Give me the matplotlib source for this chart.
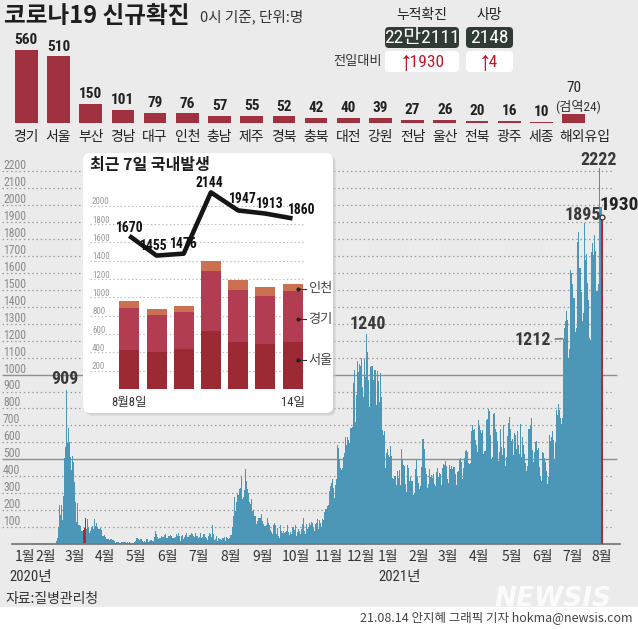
import numpy as np
import pandas as pd
import matplotlib
matplotlib.use('Agg')
import matplotlib.pyplot as plt
import matplotlib.dates as mdates
from matplotlib.patches import FancyBboxPatch, Rectangle

plt.rcParams['font.family'] = ['Noto Sans CJK KR', 'DejaVu Sans']
# narrow face for numbers, falls back family by family
NUM = ['Roboto Condensed', 'Archivo Narrow', 'Liberation Sans Narrow', 'Noto Sans CJK KR', 'DejaVu Sans']

# ---- data: regional new cases (Aug 14, 2021) ----
regions = ['경기', '서울', '부산', '경남', '대구', '인천', '충남', '제주', '경북',
           '충북', '대전', '강원', '전남', '울산', '전북', '광주', '세종', '해외유입']
region_cases = [560, 510, 150, 101, 79, 76, 57, 55, 52, 42, 40, 39, 27, 26, 20, 16, 10, 70]
quarantine_note = '(검역24)'

total_cases = '22만2111'
total_deaths = '2148'
cases_change = '↑1930'
deaths_change = '↑4'

# ---- data: last 7 days domestic ----
recent_labels = ['8월8일', '', '', '', '', '', '14일']
seoul = [425, 400, 439, 632, 512, 491, 510]
gyeonggi = [462, 407, 404, 658, 571, 526, 560]
incheon = [73, 65, 65, 109, 109, 99, 76]
recent_total = [1670, 1455, 1476, 2144, 1947, 1913, 1860]

# ---- data: daily new cases, 2020-01-20 .. 2021-08-14 ----
d2020_01 = [1, 0, 0, 0, 1, 0, 1, 1, 0, 0, 2, 4]
d2020_02 = [1, 3, 0, 1, 2, 4, 1, 0, 3, 0, 0, 0, 0, 0, 0, 1, 1, 1, 1, 15,
            34, 100, 229, 169, 231, 144, 284, 505, 571]
d2020_03 = [909, 595, 686, 600, 516, 438, 518, 483, 367, 248, 131, 242, 114, 110, 107, 76,
            74, 84, 93, 152, 87, 147, 98, 64, 76, 100, 104, 91, 146, 105, 125]
d2020_04 = [101, 89, 86, 94, 81, 47, 47, 53, 39, 27, 30, 32, 25, 27, 27, 22, 22, 18, 8, 13,
            9, 11, 8, 6, 10, 10, 10, 14, 9, 4]
d2020_05 = [9, 6, 13, 8, 3, 2, 4, 12, 18, 34, 35, 27, 26, 29, 27, 19, 13, 15, 13, 32,
            12, 20, 23, 25, 16, 19, 40, 79, 58, 39, 27]
d2020_06 = [35, 38, 49, 39, 39, 51, 57, 38, 38, 50, 45, 56, 48, 34, 37, 34, 43, 59, 49, 67,
            48, 17, 46, 51, 28, 39, 51, 62, 42, 43]
d2020_07 = [51, 54, 63, 61, 48, 44, 62, 50, 45, 35, 44, 62, 33, 39, 61, 60, 39, 34, 26, 45,
            63, 59, 41, 113, 58, 25, 28, 48, 18, 36, 31]
d2020_08 = [30, 23, 34, 33, 43, 20, 43, 36, 28, 34, 54, 56, 103, 166, 279, 197, 246, 297, 288, 324,
            332, 397, 266, 280, 320, 441, 371, 323, 299, 248, 235]
d2020_09 = [267, 195, 198, 168, 167, 119, 136, 156, 155, 176, 136, 121, 109, 106, 113, 153, 126, 110, 82, 70,
            61, 110, 125, 114, 61, 95, 50, 38, 113, 77]
d2020_10 = [63, 75, 64, 73, 75, 114, 69, 54, 72, 58, 97, 102, 84, 110, 47, 73, 91, 76, 58, 91,
            121, 155, 77, 61, 119, 88, 103, 125, 114, 127, 124]
d2020_11 = [97, 75, 118, 125, 145, 89, 143, 126, 100, 146, 143, 191, 205, 208, 223, 230, 313, 343, 363, 386,
            330, 271, 349, 382, 583, 569, 504, 450, 438, 451]
d2020_12 = [511, 540, 629, 583, 631, 615, 594, 686, 682, 689, 950, 1030, 718, 880, 1078, 1014, 1064, 1053, 1097, 926,
            869, 1092, 985, 1241, 1132, 970, 807, 1045, 1050, 967, 1029]
d2021_01 = [1025, 820, 1020, 960, 838, 1010, 869, 674, 641, 665, 451, 537, 562, 524, 513, 580, 520, 389, 386, 404,
            401, 346, 431, 392, 437, 349, 559, 497, 469, 458, 355]
d2021_02 = [305, 467, 451, 370, 393, 371, 372, 288, 303, 444, 504, 403, 362, 326, 344, 457, 621, 621, 561, 448,
            416, 332, 356, 440, 396, 406, 388, 415]
d2021_03 = [355, 344, 424, 446, 398, 418, 416, 346, 446, 470, 465, 488, 459, 382, 363, 469, 445, 463, 445, 452,
            456, 415, 346, 428, 430, 494, 505, 482, 382, 447, 506]
d2021_04 = [551, 557, 543, 477, 473, 478, 668, 700, 671, 677, 614, 587, 542, 731, 698, 673, 658, 672, 532, 549,
            731, 735, 797, 785, 644, 499, 512, 769, 775, 679]
d2021_05 = [661, 606, 488, 541, 676, 574, 525, 701, 564, 463, 511, 635, 715, 747, 681, 610, 619, 528, 654, 646,
            561, 666, 585, 530, 707, 516, 629, 587, 533, 480, 430]
d2021_06 = [459, 677, 681, 695, 744, 556, 485, 545, 602, 611, 556, 565, 452, 399, 373, 545, 540, 507, 482, 429,
            357, 395, 645, 610, 634, 668, 614, 501, 595, 794]
d2021_07 = [762, 826, 794, 743, 711, 746, 1212, 1275, 1316, 1378, 1324, 1100, 1150, 1615, 1600, 1536, 1452, 1454, 1252, 1278,
            1784, 1842, 1630, 1629, 1487, 1318, 1365, 1895, 1674, 1710, 1539]
d2021_08 = [1442, 1219, 1202, 1725, 1776, 1704, 1823, 1729, 1492, 1537, 2222, 1987, 1990, 1930]

daily = (d2020_01 + d2020_02 + d2020_03 + d2020_04 + d2020_05 + d2020_06 + d2020_07 + d2020_08 +
         d2020_09 + d2020_10 + d2020_11 + d2020_12 + d2021_01 + d2021_02 + d2021_03 + d2021_04 +
         d2021_05 + d2021_06 + d2021_07 + d2021_08)
dates = pd.date_range('2020-01-20', periods=len(daily))
highlight_dates = ['2020-03-18', '2020-03-19', '2020-03-20', '2021-08-14']

month_tick_dates = ['2020-01-20', '2020-02-10', '2020-03-09', '2020-04-08', '2020-05-09', '2020-06-09',
                    '2020-07-10', '2020-08-11', '2020-09-12', '2020-10-15', '2020-11-16', '2020-12-18',
                    '2021-01-14', '2021-02-13', '2021-03-14', '2021-04-14', '2021-05-17', '2021-06-16',
                    '2021-07-16', '2021-08-14']
month_labels = ['1월', '2월', '3월', '4월', '5월', '6월', '7월', '8월', '9월', '10월', '11월', '12월',
                '1월', '2월', '3월', '4월', '5월', '6월', '7월', '8월']

# peak labels: date, value, offset (pt)
peaks = [('2020-03-01', 909, (-1, 7.6)),
         ('2020-12-24', 1241, (0.4, 7.1)),
         ('2021-07-28', 1895, (-1.4, 5.6)),
         ('2021-08-11', 2222, (0, 5.5))]
peak_texts = ['909', '1240', '1895', '2222']

W, H = 638, 629
fig = plt.figure(figsize=(W / 100, H / 100), dpi=100, facecolor='#ebebeb')


def frac_box(x0, y0, x1, y1):
    return [x0 / W, 1 - y1 / H, (x1 - x0) / W, (y1 - y0) / H]


# background layer in pixel coordinates
bg = fig.add_axes([0, 0, 1, 1], zorder=0)
bg.set_xlim(0, W)
bg.set_ylim(H, 0)
bg.axis('off')
bg.add_patch(Rectangle((0, 607), W, 22, color='white'))

bg.text(4, 16, '코로나19 신규확진', fontsize=17, weight='bold', va='center', color='#1e1e1e')
bg.text(200, 17, '0시 기준, 단위:명', fontsize=10.5, va='center', color='#333333')

bg.text(422, 15, '누적확진', fontsize=10, ha='center', va='center', color='#222222')
bg.text(489.5, 15, '사망', fontsize=10, ha='center', va='center', color='#222222')
for (bx, bw) in [(385, 74), (466, 47)]:
    bg.add_patch(FancyBboxPatch((bx, 27), bw, 21, boxstyle='round,pad=0,rounding_size=4',
                                fc='#313b36', ec='none'))
    bg.add_patch(FancyBboxPatch((bx, 51), bw, 21, boxstyle='round,pad=0,rounding_size=4',
                                fc='white', ec='none'))
bg.text(422, 38, total_cases, family=NUM, fontsize=14, ha='center', va='center', color='white')
bg.text(489.5, 38, total_deaths, family=NUM, fontsize=14, ha='center', va='center', color='white')
bg.text(423, 62, cases_change, family=NUM, fontsize=12.5, ha='center', va='center', color='#c0182b')
bg.text(489.5, 62, deaths_change, family=NUM, fontsize=12.5, ha='center', va='center', color='#c0182b')
bg.text(382, 62, '전일대비', fontsize=9.5, ha='right', va='center', color='#333333')

bg.text(30.8, 576.5, '2020년', family=NUM, fontsize=10.5, ha='center', va='center', color='#333333')
bg.text(400, 576.5, '2021년', family=NUM, fontsize=10.5, ha='center', va='center', color='#333333')
bg.text(5, 598.5, '자료:질병관리청', fontsize=10, va='center', color='#333333')
bg.text(632, 618, '21.08.14 안지혜 그래픽 기자 hokma@newsis.com', fontsize=9, ha='right',
        va='center', color='#444444')

# ---- top regional bar chart ----
top = fig.add_axes(frac_box(0, 30, 638, 123.3), zorder=1)
top.patch.set_alpha(0)
xi = np.arange(len(regions))
top.bar(xi, region_cases, width=0.705, color='#9f3140')
top.set_xlim(-0.817, 19.0)
top.set_ylim(0, 712)
top.axis('off')
for i, (name, v) in enumerate(zip(regions, region_cases)):
    dx = 8 if i == len(regions) - 1 else 0
    top.annotate(name, xy=(i, 0), xytext=(dx, -10), textcoords='offset points',
                 ha='center', va='center', fontsize=10, color='#222222', annotation_clip=False)
    if i == len(regions) - 1:
        top.annotate(str(v), xy=(i, v), xytext=(0.5, 18.5), textcoords='offset points',
                     ha='center', va='center', family=NUM, fontsize=11, color='#222222')
        top.annotate(quarantine_note, xy=(i, v), xytext=(3, 6), textcoords='offset points',
                     ha='center', va='center', family=NUM, fontsize=9.5, color='#333333')
    else:
        top.annotate(str(v), xy=(i, v), xytext=(0, 2), textcoords='offset points',
                     ha='center', va='bottom', family=NUM, weight='bold', fontsize=11,
                     color='#222222')

# ---- main daily chart ----
main = fig.add_axes(frac_box(12, 154.4, 620, 544), zorder=1)
main.patch.set_alpha(0)
x = mdates.date2num(dates)
hl = set(mdates.date2num(pd.to_datetime(highlight_dates)))
colors = ['#b5272f' if xv in hl else '#4c96b8' for xv in x]
main.bar(x, daily, width=1.0, color=colors, linewidth=0, zorder=2)
main.vlines(x[-1] + 0.3, 0, daily[-1], color='#b5272f', lw=1.3, zorder=3)
main.plot(x[-1] + 0.3, daily[-1], marker='o', ms=3.5, mfc='white', mec='#333333', mew=0.9, zorder=4)

levels = list(range(100, 2300, 100))
dotted = [lv for lv in levels if lv not in (500, 1000)]
ytr = main.get_yaxis_transform()
main.hlines(dotted, -0.0164, 0.9885, transform=ytr, colors='#9a9a9a', linestyles=(0, (1.2, 2.2)),
            lw=0.9, zorder=0, clip_on=False)
main.hlines([500, 1000], -0.0164, 0.9951, transform=ytr, colors='#8f8f8f', lw=1.0, zorder=0,
            clip_on=False)
for lv in levels:
    main.annotate(str(lv), xy=(-0.0148, lv), xycoords=ytr, xytext=(0, 4), textcoords='offset points',
                  ha='left', va='center', family=NUM, fontsize=8.5, color='#8a8a8a',
                  annotation_clip=False)

main.set_xlim(x[0] - 12.8, x[0] + 589.8)
main.set_ylim(0, 2300)
main.set_yticks([])
main.set_xticks(mdates.date2num(pd.to_datetime(month_tick_dates)))
main.set_xticklabels(month_labels)
main.tick_params(axis='x', length=0, pad=4, labelsize=10, labelcolor='#333333')
for side in ['left', 'top', 'right']:
    main.spines[side].set_visible(False)
main.spines['bottom'].set_color('#7a7a7a')
main.spines['bottom'].set_linewidth(1.3)

for (d, v, off), t in zip(peaks, peak_texts):
    main.annotate(t, xy=(mdates.date2num(pd.Timestamp(d)), v), xytext=off, textcoords='offset points',
                  ha='center', va='center', family=NUM, weight='bold', fontsize=13, color='#3a3a3a')
main.annotate('1212', xy=(mdates.date2num(pd.Timestamp('2021-07-07')) - 1, 1212), xytext=(-8.5, -1),
              textcoords='offset points', ha='right', va='center', family=NUM, weight='bold',
              fontsize=13, color='#3a3a3a',
              arrowprops=dict(arrowstyle='-', color='#555555', lw=0.9, shrinkA=1, shrinkB=0))
main.annotate('1930', xy=(x[-1], daily[-1]), xytext=(12, 8.6), textcoords='offset points',
              ha='center', va='center', family=NUM, weight='bold', fontsize=14, color='#222222',
              annotation_clip=False)

# ---- inset box ----
box = fig.add_axes([0, 0, 1, 1], zorder=2)
box.set_xlim(0, W)
box.set_ylim(H, 0)
box.axis('off')
box.patch.set_alpha(0)
box.add_patch(FancyBboxPatch((85.5, 155.5), 250, 260, boxstyle='round,pad=0,rounding_size=7',
                             fc='#c9c9c9', ec='none', alpha=0.7))
box.add_patch(FancyBboxPatch((83, 153), 250, 260, boxstyle='round,pad=0,rounding_size=7',
                             fc='white', ec='none'))
box.text(90, 165, '최근 7일 국내발생', fontsize=11.5, weight='bold', va='center', color='#1e1e1e')
box.text(553, 599, 'NEWSIS', family='DejaVu Sans', fontsize=19, weight='bold', style='italic',
         ha='center', va='center', color='white', alpha=0.85)

ins = fig.add_axes(frac_box(90, 160, 320, 389), zorder=3)
ins.patch.set_alpha(0)
ix = np.arange(len(recent_total))
s = np.array(seoul)
g = np.array(gyeonggi)
c = np.array(incheon)
ins.bar(ix, s, width=0.735, color='#9c2a35', zorder=2)
ins.bar(ix, g, bottom=s, width=0.735, color='#b23c52', zorder=2)
ins.bar(ix, c, bottom=s + g, width=0.735, color='#cb7152', zorder=2)
ins.plot(ix, recent_total, color='#151515', lw=3.3, solid_joinstyle='round', solid_capstyle='butt',
         zorder=4)
ins.set_xlim(-1.445, 7.01)
ins.set_ylim(0, 2497)
ins.axis('off')
itr = ins.get_yaxis_transform()
ilev = list(range(200, 2001, 200))
ins.hlines(ilev, 0, 0.935, transform=itr, colors='#b8b8b8', linestyles=(0, (1.2, 2.2)), lw=0.8,
           zorder=0)
for lv in ilev:
    ins.annotate(str(lv), xy=(0.0087, lv), xycoords=itr, xytext=(0, 2.8), textcoords='offset points',
                 ha='left', va='center', family=NUM, fontsize=6.5, color='#9a9a9a')
ins.hlines(-10, 0.1, 0.948, transform=itr, colors='#333333', lw=1.1, zorder=3)

label_offsets = [(0.5, 6), (-1.8, 7), (0.2, 6.8), (-1.4, 6.4), (3.2, 8.3), (3.4, 6.9), (6.5, 6.4)]
for i, (v, off) in enumerate(zip(recent_total, label_offsets)):
    ins.annotate(str(v), xy=(i, v), xytext=off, textcoords='offset points', ha='center',
                 va='center', family=NUM, weight='bold', fontsize=9.8, color='#111111', zorder=5)
for i, t in enumerate(recent_labels):
    if t:
        ins.annotate(t, xy=(i, 0), xytext=(0, -10), textcoords='offset points', ha='center',
                     va='center', family=NUM, fontsize=9, color='#333333', annotation_clip=False)

last = len(recent_total) - 1
legend_pos = [('서울', s[last] * 0.62), ('경기', s[last] + g[last] * 0.45),
              ('인천', s[last] + g[last] + c[last] * 0.3)]
for name, yv in legend_pos:
    ins.plot([last + 0.21, last + 0.5], [yv, yv], color='#333333', lw=0.8, zorder=5, clip_on=False)
    ins.plot(last + 0.21, yv, marker='o', ms=2, color='#222222', zorder=5, clip_on=False)
    ins.annotate(name, xy=(last + 0.58, yv), ha='left', va='center', fontsize=9.5, color='#444444',
                 annotation_clip=False)

fig.savefig('out.png', dpi=100, facecolor=fig.get_facecolor())
